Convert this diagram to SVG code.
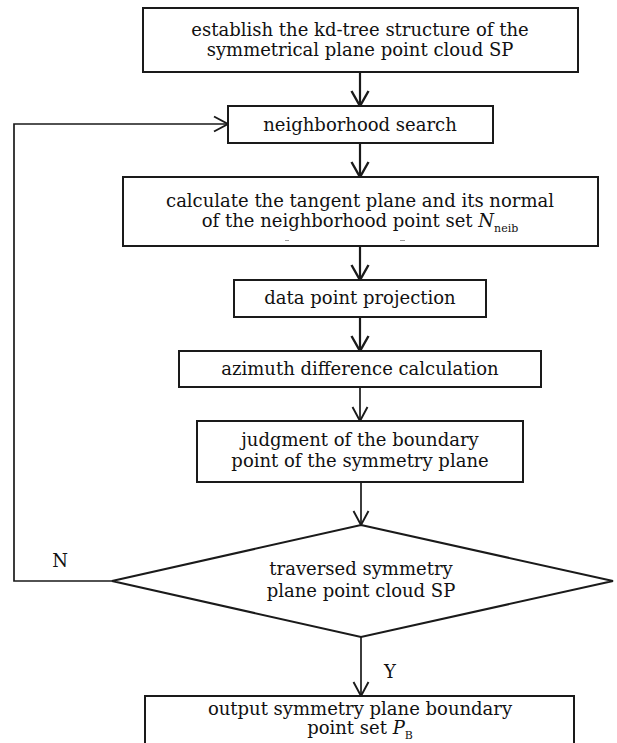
<svg xmlns="http://www.w3.org/2000/svg" width="617" height="743" viewBox="0 0 617 743">
  <defs>
    <style>
      .box { fill: #ffffff; stroke: #1a1a1a; stroke-width: 2; }
      .lbl { font-family: "DejaVu Serif", "Liberation Serif", serif; font-size: 18px; fill: #111111; text-anchor: middle; }
      .tag { font-family: "DejaVu Serif", "Liberation Serif", serif; font-size: 18px; fill: #111111; text-anchor: middle; }
      .it { font-style: italic; }
      .sub { font-size: 11px; }
      .conn { fill: none; stroke: #1a1a1a; stroke-width: 2.2; }
      .thin { stroke-width: 1.7; }
      .mark { stroke: #9a9a9a; stroke-width: 1; }
    </style>
    <marker id="arr" markerUnits="userSpaceOnUse" markerWidth="20" markerHeight="20" viewBox="0 0 20 20" refX="16" refY="10" orient="auto">
      <path d="M1,1.5 L16,10 L1,18.5" fill="none" stroke="#1a1a1a" stroke-width="2.4"/>
    </marker>
    <marker id="arr2" markerUnits="userSpaceOnUse" markerWidth="20" markerHeight="20" viewBox="0 0 20 20" refX="15" refY="10" orient="auto">
      <path d="M1,2.5 L15,10 L1,17.5" fill="none" stroke="#1a1a1a" stroke-width="1.9"/>
    </marker>
  </defs>
  <rect width="617" height="743" fill="#ffffff"/>

  <g id="connectors">
    <line class="conn" x1="360" y1="72" x2="360" y2="106" marker-end="url(#arr)"/>
    <line class="conn" x1="360" y1="143" x2="360" y2="177" marker-end="url(#arr)"/>
    <line class="conn" x1="360" y1="246" x2="360" y2="280" marker-end="url(#arr)"/>
    <line class="conn" x1="360" y1="317" x2="360" y2="351" marker-end="url(#arr)"/>
    <line class="conn thin" x1="360" y1="387" x2="360" y2="421" marker-end="url(#arr2)"/>
    <line class="conn thin" x1="361" y1="482" x2="361" y2="525" marker-end="url(#arr2)"/>
    <line class="conn thin" x1="361" y1="637" x2="361" y2="696" marker-end="url(#arr2)"/>
    <polyline class="conn thin" points="112,581 14,581 14,124 228,124" marker-end="url(#arr2)"/>
    <text class="tag" x="60" y="567">N</text>
    <text class="tag" x="390" y="678">Y</text>
  </g>

  <g id="n1">
    <rect class="box" x="143" y="8" width="435" height="64"/>
    <text class="lbl" x="360" y="36">establish the kd-tree structure of the</text>
    <text class="lbl" x="360" y="56">symmetrical plane point cloud SP</text>
  </g>

  <g id="n2">
    <rect class="box" x="228" y="106" width="265" height="37"/>
    <text class="lbl" x="360" y="131">neighborhood search</text>
  </g>

  <g id="n3">
    <rect class="box" x="123" y="177" width="475" height="69"/>
    <text class="lbl" x="360" y="207">calculate the tangent plane and its normal</text>
    <text class="lbl" x="360" y="227">of the neighborhood point set <tspan class="it">N</tspan><tspan class="sub" dy="5">neib</tspan></text>
    <line class="mark" x1="285" y1="240.5" x2="289" y2="240.5"/>
    <line class="mark" x1="400" y1="240.5" x2="405" y2="240.5"/>
  </g>

  <g id="n4">
    <rect class="box" x="234" y="280" width="252" height="37"/>
    <text class="lbl" x="360" y="304">data point projection</text>
  </g>

  <g id="n5">
    <rect class="box" x="179" y="351" width="362" height="36"/>
    <text class="lbl" x="360" y="375">azimuth difference calculation</text>
  </g>

  <g id="n6">
    <rect class="box" x="197" y="421" width="326" height="61"/>
    <text class="lbl" x="360" y="446">judgment of the boundary</text>
    <text class="lbl" x="360" y="467">point of the symmetry plane</text>
  </g>

  <g id="n7">
    <polygon class="box" points="361,525 613,581 361,637 112,581"/>
    <text class="lbl" x="361" y="575">traversed symmetry</text>
    <text class="lbl" x="361" y="597">plane point cloud SP</text>
  </g>

  <g id="n8">
    <rect class="box" x="145" y="696" width="429" height="60"/>
    <text class="lbl" x="360" y="715">output symmetry plane boundary</text>
    <text class="lbl" x="360" y="734">point set <tspan class="it">P</tspan><tspan class="sub" dy="5">B</tspan></text>
  </g>
</svg>
